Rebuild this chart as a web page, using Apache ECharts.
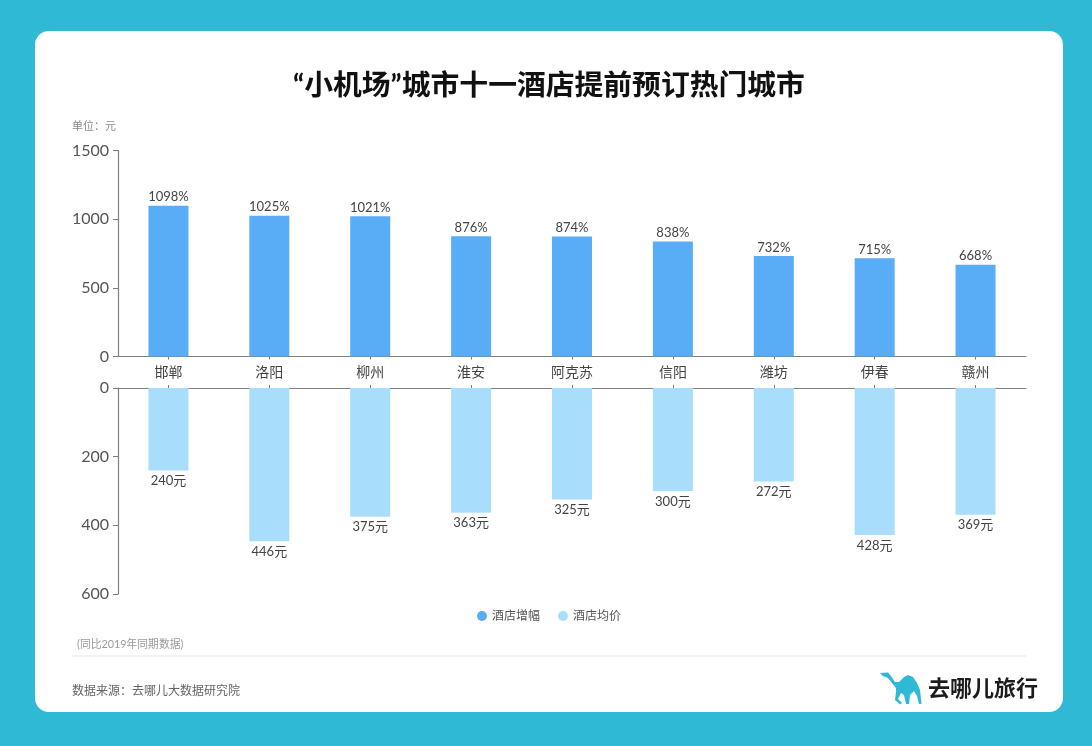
<!DOCTYPE html>
<html><head><meta charset="utf-8">
<style>html,body{margin:0;padding:0;background:#2fb9d5}#c{width:1092px;height:746px}</style>
<script src="https://cdn.jsdelivr.net/npm/echarts@6/dist/echarts.min.js"></script>
</head><body><div id="c"></div>
<script>
const categories = ['邯郸','洛阳','柳州','淮安','阿克苏','信阳','潍坊','伊春','赣州'];
const hotelGrowth = [1098,1025,1021,876,874,838,732,715,668];
const hotelPrice = [240,446,375,363,325,300,272,428,369];
const seriesNames = ['酒店增幅','酒店均价'];
const FONT = 'Lato,"Noto Sans CJK SC","Noto Sans",sans-serif';
const axisLine = {show:true,lineStyle:{color:'#7f7f7f',width:1.2}};
const yTick = {show:true,length:5,lineStyle:{color:'#7f7f7f'}};
const xTick = {show:true,length:3,alignWithLabel:true,lineStyle:{color:'#7f7f7f'}};
const plain = v => String(v);
const txt = (x,y,text,size,fill,extra) => ({type:'text',x,y,z:5,style:Object.assign({text,fontSize:size,fill,fontFamily:FONT,verticalAlign:'middle'},extra||{})});
const chart = echarts.init(document.getElementById('c'),null,{renderer:'canvas'});
chart.setOption({
  animation:false,
  backgroundColor:'#2fb9d5',
  textStyle:{fontFamily:FONT},
  title:{text:'“小机场”城市十一酒店提前预订热门城市',left:544,top:66,textAlign:'center',
    textStyle:{fontSize:28.8,fontWeight:'bold',color:'#111',fontFamily:FONT}},
  legend:{data:seriesNames,left:472,top:605,icon:'circle',itemWidth:10,itemHeight:10,itemGap:18,
    textStyle:{fontSize:12,color:'#555',fontFamily:FONT}},
  grid:[
    {left:118,right:66,top:150.5,height:206},
    {left:118,right:66,top:388,height:206}
  ],
  xAxis:[
    {type:'category',gridIndex:0,data:categories,position:'bottom',axisLine,axisTick:xTick,
     axisLabel:{fontSize:14,color:'#444',margin:9,interval:0}},
    {type:'category',gridIndex:1,data:categories,position:'top',axisLine,axisTick:xTick,axisLabel:{show:false}}
  ],
  yAxis:[
    {type:'value',gridIndex:0,min:0,max:1500,interval:500,axisLine,axisTick:yTick,splitLine:{show:false},
     axisLabel:{fontSize:16,color:'#555',margin:9,padding:[5,0,0,0],formatter:plain}},
    {type:'value',gridIndex:1,min:0,max:600,interval:200,inverse:true,axisLine,axisTick:yTick,splitLine:{show:false},
     axisLabel:{fontSize:16,color:'#555',margin:9,padding:[5,0,0,0],formatter:plain}}
  ],
  series:[
    {name:seriesNames[0],type:'bar',xAxisIndex:0,yAxisIndex:0,data:hotelGrowth,barWidth:40,itemStyle:{color:'#58adf6'},
     label:{show:true,position:'top',distance:2,formatter:'{c}%',fontSize:13,color:'#444'}},
    {name:seriesNames[1],type:'bar',xAxisIndex:1,yAxisIndex:1,data:hotelPrice,barWidth:40,itemStyle:{color:'#a8defc'},
     label:{show:true,position:'bottom',distance:4,formatter:'{c}元',fontSize:13,color:'#444'}}
  ],
  graphic:{elements:[
    {type:'rect',z:-10,silent:true,shape:{x:35,y:31,width:1028,height:681,r:14},style:{fill:'#fff'}},
    {type:'line',z:1,shape:{x1:72,y1:656,x2:1026,y2:656},style:{stroke:'#e6e6e6',lineWidth:1}},
    txt(72,126,'单位：元',11,'#8a8a8a'),
    txt(77,645,'(同比2019年同期数据)',10.8,'#9a9a9a'),
    txt(72,691,'数据来源：去哪儿大数据研究院',12,'#666'),
    txt(928,689,'去哪儿旅行',22,'#1c1c1c',{fontWeight:'bold'}),
    {type:'polygon',z:5,shape:{points:[[880,673],[888,672.5],[891,676],[895,682],[899,682],[904,677],[908,675],[913,677],[917,683],[920,690],[921.5,704],[919,704],[917,696],[914,691],[910,695],[909,704],[906,704],[904,695],[901,693],[898,699],[902,703],[900,704.5],[895,700],[896,692],[896,688],[892,683],[888,678],[883,676]]},style:{fill:'#2fb9d5'}}
  ]}
});
</script></body></html>
